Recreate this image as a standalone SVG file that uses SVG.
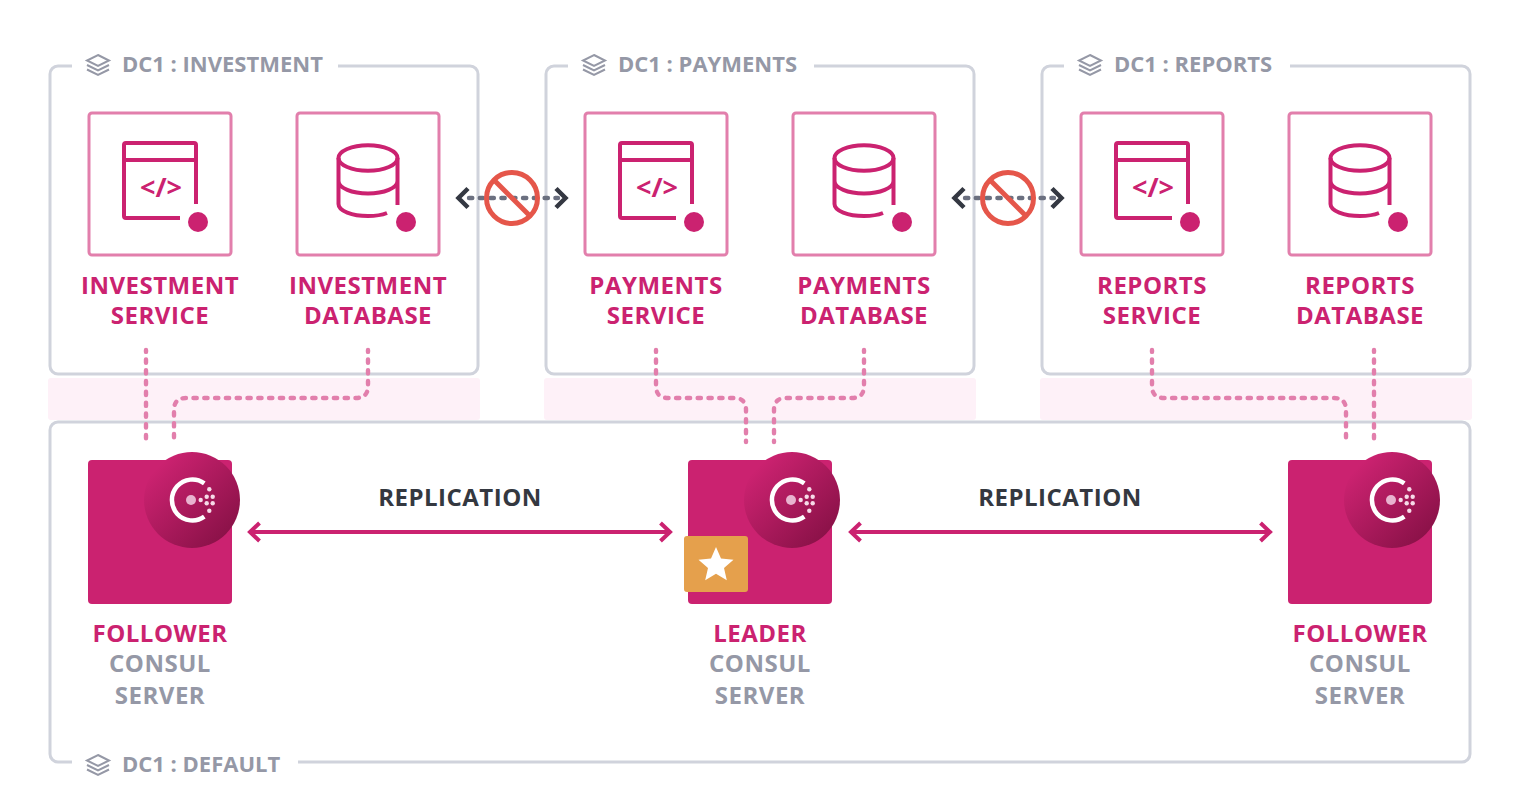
<svg xmlns="http://www.w3.org/2000/svg" width="1520" height="812" viewBox="0 0 1520 812">
<style>
text{font-family:"Open Sans","Noto Sans","Liberation Sans",sans-serif;font-weight:700;text-anchor:middle}
.frame{fill:none;stroke:#d0d3dc;stroke-width:3}
.band{fill:#fef1f8}
.svc{fill:#fff;stroke:#e27fac;stroke-width:3}
.ic{fill:none;stroke:#cb2270;stroke-width:4;stroke-linejoin:round}
.pk{fill:#cb2270;font-size:24px;letter-spacing:.5px}
.gr{fill:#9598a6;font-size:24px;letter-spacing:.5px}
.dc{fill:#9598a6;font-size:22px;text-anchor:start}
.dash{fill:none;stroke:#e27fac;stroke-width:4.400;stroke-linecap:round;stroke-dasharray:3.300 7.500;stroke-dashoffset:1.400}
.rep{fill:none;stroke:#cb2270;stroke-width:4}
.dk{fill:none;stroke:#343842;stroke-width:4.500}
.dot{fill:none;stroke:#6b7080;stroke-width:4.400;stroke-linecap:round;stroke-dasharray:3.300 7.500}
.no{fill:none;stroke:#e5564a;stroke-width:5}
.lay{fill:none;stroke:#9598a6;stroke-width:2}
.t{font-size:24px;fill:#343840;letter-spacing:.5px}
</style>
<defs>
<linearGradient id="g" x1="0.15" y1="0.15" x2="0.85" y2="0.85"><stop offset="0" stop-color="#cb2270"/><stop offset="1" stop-color="#8c1249"/></linearGradient>
<g id="layers"><path class="lay" d="M0 -9L11 -3.500L0 2L-11 -3.500Z"/><path class="lay" d="M-11 1L0 6.500L11 1M-11 5.500L0 11L11 5.500"/></g>
<g id="svc"><rect class="svc" x="-71" y="-71" width="142" height="142" rx="3"/><path class="ic" d="M36 20V-39a2 2 0 0 0 -2 -2H-34a2 2 0 0 0 -2 2V32a2 2 0 0 0 2 2H20M-36 -24H36"/><circle cx="38" cy="38" r="10" fill="#cb2270"/><text x="1" y="13" style="font-size:27px;fill:#cb2270">&lt;/&gt;</text></g>
<g id="db"><rect class="svc" x="-71" y="-71" width="142" height="142" rx="3"/><ellipse class="ic" cx="0" cy="-26" rx="29.500" ry="12.700"/><path class="ic" d="M-29.500 -26V20C-29.500 27 -16 32 0 32C7 32 14 31 19 29M29.500 -26V21M-29.500 -3C-29.500 4 -16 9.500 0 9.500C16 9.500 29.500 4 29.500 -3"/><circle cx="38" cy="38" r="10" fill="#cb2270"/></g>
<g id="server"><rect x="-72" y="-72" width="144" height="144" rx="4" fill="#cb2270"/><circle cx="32" cy="-32" r="48" fill="url(#g)"/><path d="M44.300 -48.700A20.500 20.500 0 1 0 44.300 -15.300" fill="none" stroke="#fff" stroke-width="4.500"/><circle cx="31" cy="-32" r="5" fill="#e8b4cf"/><g fill="#f6dbe8"><circle cx="40.700" cy="-32" r="2.200"/><circle cx="49.300" cy="-42.700" r="2.200"/><circle cx="46.700" cy="-35.300" r="2.200"/><circle cx="52.700" cy="-35.300" r="2.200"/><circle cx="46.700" cy="-28.700" r="2.200"/><circle cx="52.700" cy="-28.700" r="2.200"/><circle cx="49.300" cy="-21.300" r="2.200"/></g></g>
<g id="blocked"><path class="dot" d="M-43 0H46"/><path class="dk" d="M-44 -9.500L-53.500 0L-44 9.500M44 -9.500L53.500 0L44 9.500"/><circle class="no" r="25.500"/><path class="no" d="M-18 -18L18 18"/></g>
</defs>
<rect class="band" x="48" y="378" width="432" height="42" rx="3"/>
<rect class="band" x="544" y="378" width="432" height="42" rx="3"/>
<rect class="band" x="1040" y="378" width="432" height="42" rx="3"/>
<g id="dc1-investment"><path class="frame" d="M72 66H58a8 8 0 0 0 -8 8V366a8 8 0 0 0 8 8H470a8 8 0 0 0 8 -8V74a8 8 0 0 0 -8 -8H338"/><use href="#layers" x="98" y="64"/><text class="dc" x="122" y="72">DC1 : INVESTMENT</text></g>
<g id="dc1-payments"><path class="frame" d="M568 66H554a8 8 0 0 0 -8 8V366a8 8 0 0 0 8 8H966a8 8 0 0 0 8 -8V74a8 8 0 0 0 -8 -8H814"/><use href="#layers" x="594" y="64"/><text class="dc" x="618" y="72">DC1 : PAYMENTS</text></g>
<g id="dc1-reports"><path class="frame" d="M1064 66H1050a8 8 0 0 0 -8 8V366a8 8 0 0 0 8 8H1462a8 8 0 0 0 8 -8V74a8 8 0 0 0 -8 -8H1290"/><use href="#layers" x="1090" y="64"/><text class="dc" x="1114" y="72">DC1 : REPORTS</text></g>
<g id="dc1-default"><path class="frame" d="M72 762H58a8 8 0 0 1 -8 -8V430a8 8 0 0 1 8 -8H1462a8 8 0 0 1 8 8V754a8 8 0 0 1 -8 8H298"/><use href="#layers" x="98" y="764"/><text class="dc" x="122" y="772">DC1 : DEFAULT</text></g>
<g id="connectors">
<path class="dash" d="M146 350V442"/>
<path class="dash" d="M368 350V386Q368 398 356 398H186Q174 398 174 410V442"/>
<path class="dash" d="M656 350V386Q656 398 668 398H734Q746 398 746 410V442"/>
<path class="dash" d="M864 350V386Q864 398 852 398H786Q774 398 774 410V442"/>
<path class="dash" d="M1152 350V386Q1152 398 1164 398H1334Q1346 398 1346 410V442"/>
<path class="dash" d="M1374 350V442"/>
<path class="rep" d="M251 532H669M259.500 523L250 532L259.500 541M660.500 523L670 532L660.500 541"/>
<path class="rep" d="M851 532H1269M860.500 523L851 532L860.500 541M1260.500 523L1270 532L1260.500 541"/>
<use href="#blocked" x="512" y="198"/>
<use href="#blocked" x="1008" y="198"/>
</g>
<g id="investment-service"><use href="#svc" x="160" y="184"/><text class="pk" x="160" y="294">INVESTMENT</text><text class="pk" x="160" y="324">SERVICE</text></g>
<g id="investment-database"><use href="#db" x="368" y="184"/><text class="pk" x="368" y="294">INVESTMENT</text><text class="pk" x="368" y="324">DATABASE</text></g>
<g id="payments-service"><use href="#svc" x="656" y="184"/><text class="pk" x="656" y="294">PAYMENTS</text><text class="pk" x="656" y="324">SERVICE</text></g>
<g id="payments-database"><use href="#db" x="864" y="184"/><text class="pk" x="864" y="294">PAYMENTS</text><text class="pk" x="864" y="324">DATABASE</text></g>
<g id="reports-service"><use href="#svc" x="1152" y="184"/><text class="pk" x="1152" y="294">REPORTS</text><text class="pk" x="1152" y="324">SERVICE</text></g>
<g id="reports-database"><use href="#db" x="1360" y="184"/><text class="pk" x="1360" y="294">REPORTS</text><text class="pk" x="1360" y="324">DATABASE</text></g>
<g id="follower-1"><use href="#server" x="160" y="532"/><text class="pk" x="160" y="642">FOLLOWER</text><text class="gr" x="160" y="672">CONSUL</text><text class="gr" x="160" y="704">SERVER</text></g>
<g id="leader"><use href="#server" x="760" y="532"/><rect x="684" y="536" width="64" height="56" rx="3" fill="#e5a04c"/><path fill="#fff" d="M716 547L721 558.500L733.500 559.700L724 568L726.800 580.300L716 573.800L705.200 580.300L708 568L698.500 559.700L711 558.500Z"/><text class="pk" x="760" y="642">LEADER</text><text class="gr" x="760" y="672">CONSUL</text><text class="gr" x="760" y="704">SERVER</text></g>
<g id="follower-2"><use href="#server" x="1360" y="532"/><text class="pk" x="1360" y="642">FOLLOWER</text><text class="gr" x="1360" y="672">CONSUL</text><text class="gr" x="1360" y="704">SERVER</text></g>
<text class="t" x="460" y="506">REPLICATION</text>
<text class="t" x="1060" y="506">REPLICATION</text>
</svg>
